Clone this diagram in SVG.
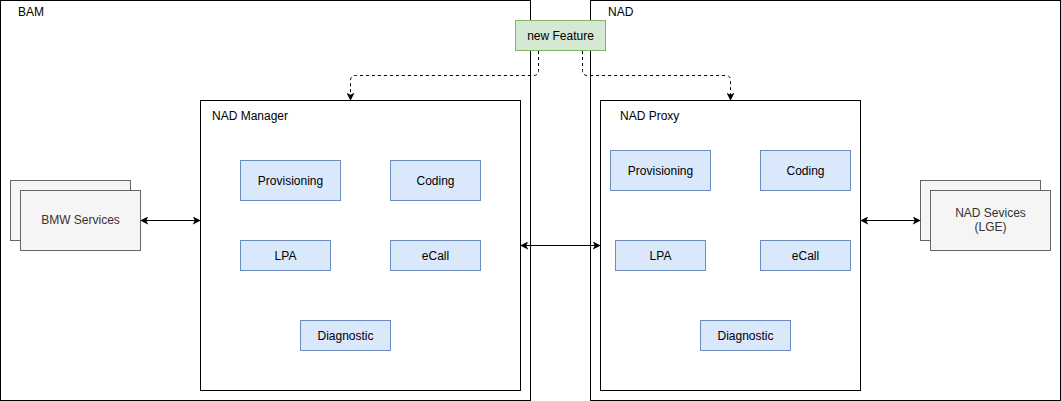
<svg xmlns="http://www.w3.org/2000/svg" width="1061" height="401" viewBox="0 0 1061 401">
<style>
text{font-family:"Liberation Sans",Arial,sans-serif;font-size:12px;fill:#000}
.frame{fill:#fff;stroke:#000;stroke-width:1}
.blue{fill:#dae8fc;stroke:#6c8ebf;stroke-width:1}
.green{fill:#d5e8d4;stroke:#82b366;stroke-width:1}
.gray{fill:#f5f5f5;stroke:#666;stroke-width:1}
.gt{fill:#333}
.c{text-anchor:middle}
.edge{fill:none;stroke:#000;stroke-width:1}
.dash{stroke-dasharray:3 3}
</style>
<defs>
<marker id="ah" viewBox="0 0 10 10" refX="9" refY="5" markerWidth="8" markerHeight="8" markerUnits="userSpaceOnUse" orient="auto-start-reverse">
<path d="M0,0 L10,5 L0,10 L2.5,5 Z" fill="#000"/>
</marker>
</defs>
<rect width="1061" height="401" fill="#fff"/>
<g id="bam"><rect class="frame" x="0.5" y="0.5" width="530" height="400"/><text x="18" y="16">BAM</text></g>
<g id="nad"><rect class="frame" x="590.5" y="0.5" width="470" height="400"/><text x="608" y="16">NAD</text></g>
<g id="nad-manager"><rect class="frame" x="200.5" y="100.5" width="320" height="290"/><text x="212" y="120">NAD Manager</text></g>
<g id="nad-proxy"><rect class="frame" x="600.5" y="100.5" width="260" height="290"/><text x="620" y="120">NAD Proxy</text></g>
<g id="m-prov"><rect class="blue" x="240.5" y="160.5" width="100" height="40"/><text class="c" x="290.5" y="185">Provisioning</text></g>
<g id="m-coding"><rect class="blue" x="390.5" y="160.5" width="90" height="40"/><text class="c" x="435.5" y="185">Coding</text></g>
<g id="m-lpa"><rect class="blue" x="240.5" y="240.5" width="90" height="30"/><text class="c" x="285.5" y="260">LPA</text></g>
<g id="m-ecall"><rect class="blue" x="390.5" y="240.5" width="90" height="30"/><text class="c" x="435.5" y="260">eCall</text></g>
<g id="m-diag"><rect class="blue" x="300.5" y="320.5" width="90" height="30"/><text class="c" x="345.5" y="340">Diagnostic</text></g>
<g id="p-prov"><rect class="blue" x="610.5" y="150.5" width="100" height="40"/><text class="c" x="660.5" y="175">Provisioning</text></g>
<g id="p-coding"><rect class="blue" x="760.5" y="150.5" width="90" height="40"/><text class="c" x="805.5" y="175">Coding</text></g>
<g id="p-lpa"><rect class="blue" x="615.5" y="240.5" width="90" height="30"/><text class="c" x="660.5" y="260">LPA</text></g>
<g id="p-ecall"><rect class="blue" x="760.5" y="240.5" width="90" height="30"/><text class="c" x="805.5" y="260">eCall</text></g>
<g id="p-diag"><rect class="blue" x="700.5" y="320.5" width="90" height="30"/><text class="c" x="745.5" y="340">Diagnostic</text></g>
<g id="bmw"><rect class="gray" x="10.5" y="180.5" width="120" height="60"/><rect class="gray" x="20.5" y="190.5" width="120" height="60"/><text class="c gt" x="80.5" y="224">BMW Services</text></g>
<g id="nadsvc"><rect class="gray" x="920.5" y="180.5" width="120" height="60"/><rect class="gray" x="930.5" y="190.5" width="120" height="60"/><text class="c gt" x="990.5" y="217">NAD Sevices</text><text class="c gt" x="990.5" y="231">(LGE)</text></g>
<g id="feature"><rect class="green" x="515.5" y="20.5" width="90" height="30"/><text class="c" x="560.5" y="40">new Feature</text></g>
<g id="connectors">
<path class="edge dash" d="M538.5,51 V70.5 Q538.5,75.5 533.5,75.5 H355.5 Q350.5,75.5 350.5,80.5 V100" marker-end="url(#ah)"/>
<path class="edge dash" d="M582.5,51 V70.5 Q582.5,75.5 587.5,75.5 H725.5 Q730.5,75.5 730.5,80.5 V100" marker-end="url(#ah)"/>
<path class="edge" d="M141,220.5 H200" marker-start="url(#ah)" marker-end="url(#ah)"/>
<path class="edge" d="M521,245.5 H600" marker-start="url(#ah)" marker-end="url(#ah)"/>
<path class="edge" d="M861,220.5 H920" marker-start="url(#ah)" marker-end="url(#ah)"/>
</g>
</svg>
